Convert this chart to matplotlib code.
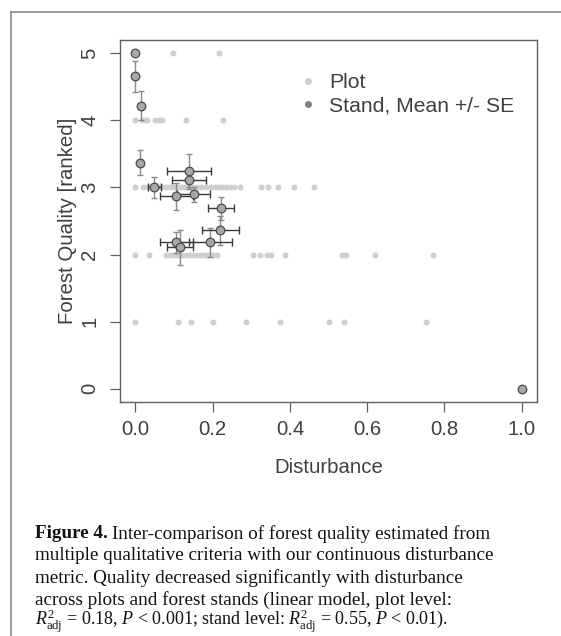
import matplotlib
matplotlib.use("Agg")
import matplotlib.pyplot as plt
from matplotlib.lines import Line2D
import numpy as np

# ---------------- data ----------------
plot_y5 = [0.0, 0.097, 0.216]
plot_y4 = [0.0, 0.016, 0.025, 0.031, 0.05, 0.06, 0.07, 0.132, 0.227]
plot_y3 = [0.0, 0.019, 0.03, 0.045, 0.06, 0.07, 0.08, 0.09, 0.10, 0.11, 0.12, 0.13,
           0.14, 0.15, 0.16, 0.17, 0.183, 0.195, 0.205, 0.215, 0.225, 0.235, 0.245,
           0.255, 0.27, 0.326, 0.344, 0.37, 0.41, 0.463]
plot_y2 = [0.0, 0.036, 0.08, 0.09, 0.10, 0.11, 0.12, 0.13, 0.14, 0.15, 0.16, 0.17,
           0.18, 0.19, 0.20, 0.21, 0.305, 0.322, 0.34, 0.352, 0.387, 0.535, 0.545,
           0.62, 0.77]
plot_y1 = [0.0, 0.111, 0.144, 0.2, 0.286, 0.375, 0.5, 0.539, 0.752]
plot_y0 = [1.0]

stand_x  = [0.0, 0.0, 0.015, 0.013, 0.049, 0.139, 0.139, 0.106, 0.151, 0.221, 0.220, 0.194, 0.106, 0.116, 1.0]
stand_y  = [5.0, 4.66, 4.22, 3.37, 3.0, 3.24, 3.11, 2.87, 2.90, 2.69, 2.36, 2.18, 2.18, 2.11, 0.0]
stand_xe = [0.0, 0.0, 0.004, 0.003, 0.016, 0.057, 0.044, 0.042, 0.043, 0.034, 0.047, 0.056, 0.042, 0.034, 0.0]
stand_ye = [0.0, 0.23, 0.22, 0.19, 0.16, 0.26, 0.10, 0.20, 0.11, 0.17, 0.22, 0.21, 0.16, 0.26, 0.0]

xticks = [0.0, 0.2, 0.4, 0.6, 0.8, 1.0]
xticklabels = ["0.0", "0.2", "0.4", "0.6", "0.8", "1.0"]
yticks = [0, 1, 2, 3, 4, 5]
yticklabels = ["0", "1", "2", "3", "4", "5"]

caption_lines = [
    "Inter-comparison of forest quality estimated from",
    "multiple qualitative criteria with our continuous disturbance",
    "metric. Quality decreased significantly with disturbance",
    "across plots and forest stands (linear model, plot level:",
    r"$R^2_{\mathrm{adj}}$ = 0.18, $P$ < 0.001; stand level: $R^2_{\mathrm{adj}}$ = 0.55, $P$ < 0.01).",
]

# ---------------- style ----------------
plt.rcParams['font.family'] = ['Liberation Sans', 'DejaVu Sans']
plt.rcParams['mathtext.fontset'] = 'custom'
plt.rcParams['mathtext.rm'] = 'Liberation Serif'
plt.rcParams['mathtext.it'] = 'Liberation Serif:italic'
plt.rcParams['mathtext.bf'] = 'Liberation Serif:bold'

W, H = 561, 636
fig = plt.figure(figsize=(W / 100, H / 100), dpi=100)
ax = fig.add_axes([120 / W, 1 - 402 / H, (537 - 120) / W, (402 - 40) / H])

txtc = '#404040'
framec = '#606060'
fs = 14.7

pts_x = plot_y5 + plot_y4 + plot_y3 + plot_y2 + plot_y1 + plot_y0
pts_y = ([5] * len(plot_y5) + [4] * len(plot_y4) + [3] * len(plot_y3) +
         [2] * len(plot_y2) + [1] * len(plot_y1) + [0] * len(plot_y0))
ax.plot(pts_x, pts_y, 'o', ms=4.3, mfc='#cfcfcf', mec='none', zorder=1)

sx = np.array(stand_x); sy = np.array(stand_y)
sxe = np.array(stand_xe); sye = np.array(stand_ye)
m = sye > 0
ax.errorbar(sx[m], sy[m], yerr=sye[m], fmt='none', ecolor='#8a8a8a', elinewidth=1.0,
            capsize=2.5, capthick=1.0, zorder=2)
m = sxe > 0
ax.errorbar(sx[m], sy[m], xerr=sxe[m], fmt='none', ecolor='#3a3a3a', elinewidth=1.0,
            capsize=3.2, capthick=1.0, zorder=3)
ax.plot(sx, sy, 'o', ms=6.2, mfc='#a8a8a8', mec='#4a4a4a', mew=0.9, zorder=4)

ax.set_xlim(-0.04, 1.04)
ax.set_ylim(-0.2, 5.2)
ax.set_xticks(xticks)
ax.set_xticklabels(xticklabels)
ax.set_yticks(yticks)
ax.set_yticklabels(yticklabels, rotation=90, va='center')
ax.tick_params(axis='both', direction='out', length=7, width=0.9, color=framec,
               labelcolor=txtc, labelsize=fs, pad=6)
ax.tick_params(axis='y', pad=8)
for s in ax.spines.values():
    s.set_color(framec)
    s.set_linewidth(1.0)
ax.set_xlabel("Disturbance", fontsize=fs, color=txtc, labelpad=14)
ax.set_ylabel("Forest Quality [ranked]", fontsize=fs, color=txtc, labelpad=2)

handles = [Line2D([], [], ls='none', marker='o', ms=5, mfc='#cfcfcf', mec='none'),
           Line2D([], [], ls='none', marker='o', ms=5, mfc='#808080', mec='none')]
leg = ax.legend(handles, ["Plot", "Stand, Mean +/- SE"], loc='upper left',
                bbox_to_anchor=(0.415, 0.932), frameon=False, fontsize=15.2,
                handlelength=0.6, handletextpad=0.7, labelspacing=0.2,
                borderaxespad=0)
for t in leg.get_texts():
    t.set_color(txtc)

# figure border (top and left)
fig.add_artist(Line2D([11 / W, 1.0], [1 - 12 / H, 1 - 12 / H], color='#8a8a8a', lw=1.2))
fig.add_artist(Line2D([11 / W, 11 / W], [0.0, 1 - 12 / H], color='#8a8a8a', lw=1.2))

# caption
capfs = 13.8
capfs_last = 13.0
fig.canvas.draw()
renderer = fig.canvas.get_renderer()
x0 = 35 / W
ys = [534, 556, 578, 600, 621]
bold = fig.text(x0, 1 - ys[0] / H, "Figure 4.", fontsize=capfs, family='Liberation Serif',
                weight='bold', va='center', color='#111111')
bb = bold.get_window_extent(renderer)
fig.text((bb.x1 + 4) / W, 1 - ys[0] / H, caption_lines[0], fontsize=capfs,
         family='Liberation Serif', va='center', color='#111111')
for i, (line, yy) in enumerate(zip(caption_lines[1:], ys[1:])):
    f = capfs_last if i == len(caption_lines) - 2 else capfs
    fig.text(x0, 1 - yy / H, line, fontsize=f, family='Liberation Serif',
             va='center', color='#111111')

fig.savefig("out.png", dpi=100)
